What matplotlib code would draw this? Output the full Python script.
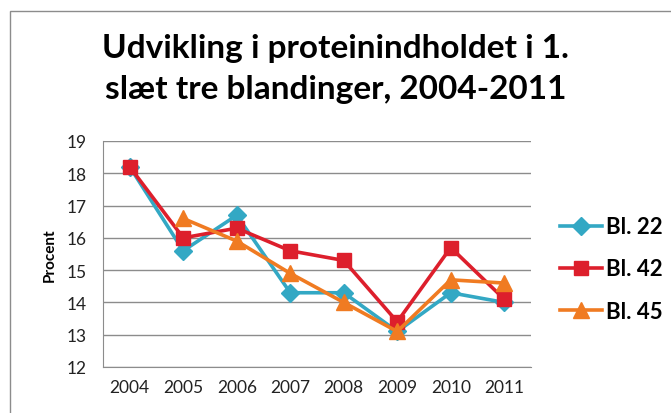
import numpy as np
import matplotlib
matplotlib.use("Agg")
import matplotlib.pyplot as plt
from matplotlib.patches import Rectangle

plt.rcParams['font.family'] = ['Lato', 'DejaVu Sans']

years = ['2004', '2005', '2006', '2007', '2008', '2009', '2010', '2011']
bl22 = [18.2, 15.6, 16.7, 14.3, 14.3, 13.1, 14.3, 14.0]
bl42 = [18.2, 16.0, 16.3, 15.6, 15.3, 13.4, 15.7, 14.1]
bl45 = [np.nan, 16.6, 15.9, 14.9, 14.0, 13.1, 14.7, 14.6]

fig = plt.figure(figsize=(6.71, 4.14), dpi=100)
ax = fig.add_axes([103 / 671, 1 - 368 / 414, 428 / 671, 226 / 414])

x = np.arange(len(years))
ax.plot(x, bl22, color='#33A8C4', lw=2.6, marker='D', ms=9, label='Bl. 22')
ax.plot(x, bl42, color='#DD1F2C', lw=2.6, marker='s', ms=10, label='Bl. 42')
ax.plot(x, bl45, color='#F07B22', lw=2.6, marker='^', ms=11, label='Bl. 45')

ax.set_xlim(-0.5, len(years) - 0.5)
ax.set_ylim(12, 19)
ax.set_yticks(range(12, 20))
ax.set_xticks(x)
ax.set_xticklabels(years)
ax.tick_params(length=0, labelsize=12.5, colors='#222222')
ax.tick_params(axis='x', pad=9)
ax.tick_params(axis='y', pad=12)
ax.grid(axis='y', color='#8c8c8c', lw=1)
ax.set_axisbelow(True)
for s in ['top', 'right']:
    ax.spines[s].set_visible(False)
for s in ['left', 'bottom']:
    ax.spines[s].set_color('#8c8c8c')
ax.set_ylabel('Procent', fontsize=11, fontweight='bold', labelpad=7)

fig.text(0.5, 0.833, 'Udvikling i proteinindholdet i 1.\nslæt tre blandinger, 2004-2011',
         ha='center', va='center', fontsize=24, fontweight='bold', linespacing=1.5)

leg = ax.legend(loc='center left', bbox_to_anchor=(1.02, 0.434), frameon=False,
                prop={'weight': 'bold', 'size': 16}, handlelength=1.9,
                labelspacing=0.95, handletextpad=0.2)

fig.patches.append(Rectangle((10 / 671, -0.1), 1.2, 1 - 12 / 414 + 0.1,
                             transform=fig.transFigure, fill=False,
                             edgecolor='#8c8c8c', lw=1))

fig.savefig('out.png', dpi=100)
